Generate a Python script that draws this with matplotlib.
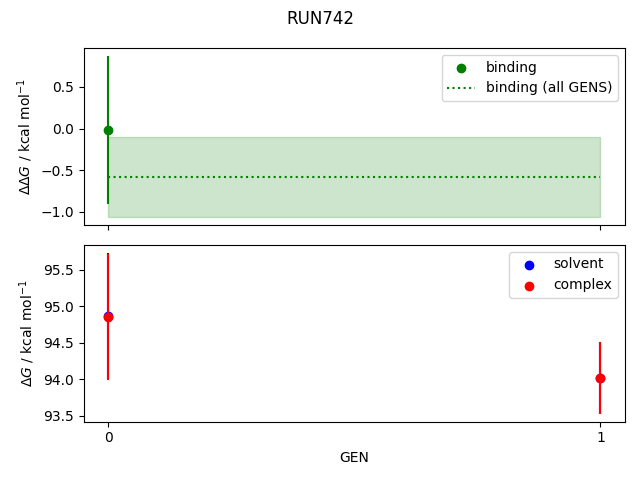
import matplotlib
matplotlib.use("Agg")
import matplotlib.pyplot as plt

gens = [0, 1]

binding_gen = [0]
binding = [-0.02]
binding_err = [0.89]
binding_all = -0.58
binding_all_err = 0.48
binding_span = [0, 1]

solvent = [94.87, 94.02]
solvent_err = [0.86, 0.49]
complex_ = [94.85, 94.02]
complex_err = [0.86, 0.49]

fig, axes = plt.subplots(2, 1, sharex=True, figsize=(6.4, 4.8))

ax = axes[0]
ax.scatter(binding_gen, binding, color="green", label="binding")
ax.errorbar(binding_gen, binding, yerr=binding_err, color="green", fmt="none")
ax.hlines(binding_all, binding_span[0], binding_span[1], color="green",
          linestyle=":", label="binding (all GENS)")
ax.fill_between(binding_span, binding_all - binding_all_err,
                binding_all + binding_all_err, color="green", alpha=0.2)
ax.set_ylabel(r"$\Delta\Delta G$ / kcal mol$^{-1}$")
ax.legend()

ax = axes[1]
ax.scatter(gens, solvent, color="blue", label="solvent")
ax.errorbar(gens, solvent, yerr=solvent_err, color="blue", fmt="none")
ax.scatter(gens, complex_, color="red", label="complex")
ax.errorbar(gens, complex_, yerr=complex_err, color="red", fmt="none")
ax.set_ylabel(r"$\Delta G$ / kcal mol$^{-1}$")
ax.set_xlabel("GEN")
ax.set_xticks(gens)
ax.legend()

fig.suptitle("RUN742")
plt.tight_layout()
plt.savefig("out.png", dpi=100)
plt.close(fig)
